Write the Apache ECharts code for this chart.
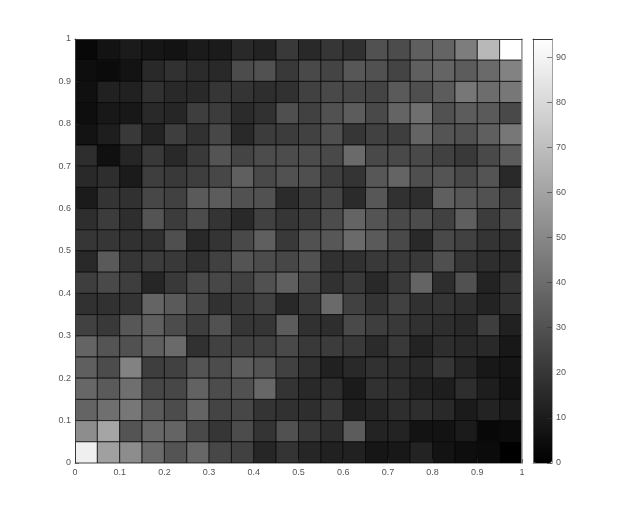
<!DOCTYPE html>
<html>
<head>
<meta charset="utf-8">
<style>
  html, body { margin: 0; padding: 0; background: #fff; }
  #chart { width: 623px; height: 520px; }
</style>
<script src="https://cdn.jsdelivr.net/npm/echarts@6/dist/echarts.min.js"></script>
</head>
<body>
<div id="chart"></div>
<script>
// cell values, one list per row, top row (y 0.95-1) first
const row01 = [3, 7, 10, 8, 7, 10, 10, 15, 13, 21, 15, 20, 18, 30, 28, 35, 37, 46, 68, 94]
const row02 = [5, 4, 7, 15, 18, 16, 15, 28, 30, 21, 27, 25, 32, 30, 25, 35, 37, 34, 39, 48]
const row03 = [6, 12, 12, 18, 15, 15, 20, 19, 17, 18, 24, 27, 26, 25, 33, 29, 34, 44, 40, 44]
const row04 = [5, 9, 9, 15, 14, 23, 22, 16, 18, 29, 24, 30, 34, 27, 37, 41, 30, 34, 33, 27]
const row05 = [7, 11, 21, 13, 23, 18, 26, 15, 22, 22, 24, 29, 20, 24, 23, 37, 31, 30, 35, 44]
const row06 = [17, 6, 14, 21, 15, 21, 31, 25, 28, 28, 28, 27, 39, 27, 27, 27, 24, 21, 27, 34]
const row07 = [15, 17, 10, 23, 21, 23, 26, 35, 27, 30, 29, 23, 19, 32, 37, 29, 31, 27, 31, 15]
const row08 = [10, 19, 18, 26, 24, 33, 34, 30, 30, 16, 21, 25, 16, 32, 18, 17, 35, 32, 30, 24]
const row09 = [17, 22, 17, 31, 22, 28, 19, 15, 24, 20, 22, 28, 37, 31, 27, 28, 24, 35, 22, 27]
const row10 = [20, 20, 18, 18, 29, 15, 19, 27, 35, 21, 30, 32, 39, 33, 27, 15, 27, 24, 19, 18]
const row11 = [15, 33, 20, 22, 21, 18, 24, 31, 28, 26, 30, 18, 18, 21, 21, 21, 29, 20, 17, 16]
const row12 = [23, 27, 23, 14, 21, 27, 26, 24, 30, 35, 26, 18, 21, 15, 21, 37, 17, 30, 13, 19]
const row13 = [18, 18, 19, 37, 33, 27, 18, 21, 24, 15, 21, 39, 24, 19, 24, 18, 19, 17, 13, 18]
const row14 = [24, 21, 32, 35, 28, 23, 30, 20, 20, 34, 18, 17, 27, 23, 21, 18, 17, 15, 23, 12]
const row15 = [37, 31, 30, 35, 39, 18, 24, 24, 24, 27, 21, 22, 21, 16, 21, 13, 17, 15, 15, 9]
const row16 = [35, 28, 48, 23, 24, 31, 28, 34, 31, 24, 18, 12, 15, 18, 17, 15, 20, 14, 9, 8]
const row17 = [38, 33, 41, 26, 26, 36, 28, 30, 38, 19, 15, 17, 10, 18, 17, 12, 11, 17, 11, 7]
const row18 = [37, 41, 44, 33, 28, 37, 25, 26, 19, 18, 17, 21, 12, 14, 17, 17, 15, 10, 13, 10]
const row19 = [52, 61, 31, 38, 37, 27, 20, 28, 19, 30, 21, 17, 34, 13, 13, 7, 7, 10, 3, 4]
const row20 = [88, 59, 52, 39, 31, 38, 26, 24, 14, 19, 14, 12, 12, 8, 9, 13, 7, 5, 4, 0]

const rows = [row01, row02, row03, row04, row05, row06, row07, row08, row09, row10,
  row11, row12, row13, row14, row15, row16, row17, row18, row19, row20]

const cellSize = 0.05
const colorMax = 94

const cells = []
rows.forEach((row, r) => {
  row.forEach((v, c) => {
    cells.push([c * cellSize, 1 - (r + 1) * cellSize, v])
  })
})

const tickFont = { fontFamily: 'Liberation Sans', fontSize: 9, color: '#555' }
const darkEdge = '#3a3a3a'
const lightEdge = '#a0a0a0'

function renderCell(params, api) {
  const p0 = api.coord([api.value(0), api.value(1) + cellSize])
  const p1 = api.coord([api.value(0) + cellSize, api.value(1)])
  return {
    type: 'rect',
    shape: { x: p0[0], y: p0[1], width: p1[0] - p0[0], height: p1[1] - p0[1] },
    style: { fill: api.visual('color'), stroke: '#000', lineWidth: 0.7 },
  }
}

// plain edge of a box, no ticks or labels
function edgeAxis(gridIndex, position, color, width) {
  return {
    gridIndex, position, type: 'value', min: 0, max: 1, z: 6,
    splitLine: { show: false },
    axisTick: { show: false },
    axisLabel: { show: false },
    axisLine: { show: true, onZero: false, lineStyle: { color, width } },
  }
}

const chart = echarts.init(document.getElementById('chart'))
chart.setOption({
  animation: false,
  backgroundColor: '#fff',
  grid: [
    { left: 75, top: 39, width: 447, height: 424 },
    { left: 533, top: 39, width: 19, height: 424 },
  ],
  xAxis: [
    {
      gridIndex: 0, type: 'value', min: 0, max: 1, interval: 0.1, z: 6,
      splitLine: { show: false },
      axisLine: { show: true, onZero: false, lineStyle: { color: lightEdge, width: 1 } },
      axisTick: { show: true, inside: true, length: 4, lineStyle: { color: '#333', width: 0.6 } },
      axisLabel: { ...tickFont, margin: 5 },
    },
    edgeAxis(0, 'top', darkEdge, 1),
    edgeAxis(1, 'bottom', lightEdge, 1),
    edgeAxis(1, 'top', darkEdge, 1),
  ],
  yAxis: [
    {
      gridIndex: 0, type: 'value', min: 0, max: 1, interval: 0.1, z: 6,
      splitLine: { show: false },
      axisLine: { show: true, onZero: false, lineStyle: { color: darkEdge, width: 1 } },
      axisTick: { show: true, inside: true, length: 4, lineStyle: { color: '#333', width: 0.6 } },
      axisLabel: { ...tickFont, margin: 4 },
    },
    edgeAxis(0, 'right', lightEdge, 1.5),
    edgeAxis(1, 'left', '#666', 1),
    {
      gridIndex: 1, type: 'value', min: 0, max: colorMax, interval: 10, position: 'right', z: 6,
      splitLine: { show: false },
      axisLine: { show: true, onZero: false, lineStyle: { color: lightEdge, width: 1 } },
      axisTick: { show: true, inside: true, length: 5, lineStyle: { color: '#333', width: 0.6 } },
      axisLabel: { ...tickFont, margin: 4, showMaxLabel: false },
    },
  ],
  visualMap: {
    type: 'continuous',
    seriesIndex: 0,
    dimension: 2,
    min: 0,
    max: colorMax,
    calculable: false,
    realtime: false,
    left: 533,
    top: 39,
    itemWidth: 19,
    itemHeight: 424,
    padding: 0,
    text: ['', ''],
    showLabel: false,
    inRange: { color: ['#000000', '#ffffff'] },
  },
  series: [{
    type: 'custom',
    coordinateSystem: 'cartesian2d',
    xAxisIndex: 0,
    yAxisIndex: 0,
    clip: true,
    encode: { x: 0, y: 1 },
    renderItem: renderCell,
    data: cells,
  }],
})
</script>
</body>
</html>
